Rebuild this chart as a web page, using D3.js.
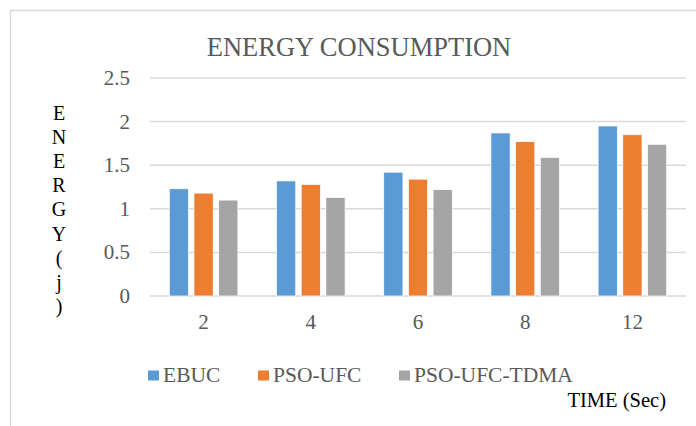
<!DOCTYPE html>
<html>
<head>
<meta charset="utf-8">
<script src="https://cdn.jsdelivr.net/npm/d3@7"></script>
<style>
  html, body { margin: 0; padding: 0; background: #fff; }
  svg { display: block; }
</style>
</head>
<body>
<svg id="chart" width="696" height="426"></svg>
<script>
const times = ["2", "4", "6", "8", "12"];
const seriesNames = ["EBUC", "PSO-UFC", "PSO-UFC-TDMA"];
const ebuc = [1.23, 1.32, 1.42, 1.87, 1.95];
const psoUfc = [1.18, 1.28, 1.34, 1.77, 1.85];
const psoUfcTdma = [1.10, 1.13, 1.22, 1.59, 1.74];
const yTicks = [0, 0.5, 1, 1.5, 2, 2.5];
const yTitleChars = ["E", "N", "E", "R", "G", "Y", "(", "j", ")"];

const colors = ["#5B9BD5", "#ED7D31", "#A5A5A5"];
const seriesValues = [ebuc, psoUfc, psoUfcTdma];
const font = "'Liberation Serif', 'Times New Roman', serif";

const svg = d3.select("#chart");

// outer chart border (only top and left visible in frame)
svg.append("rect")
  .attr("x", 10.5).attr("y", 10.5)
  .attr("width", 720).attr("height", 440)
  .attr("fill", "none")
  .attr("stroke", "#d9d9d9")
  .attr("stroke-width", 1.5);

const plot = { left: 150, right: 686, top: 78, bottom: 296 };

const x = d3.scaleBand().domain(times).range([plot.left, plot.right]).padding(0);
const bw = x.bandwidth();
const xSub = d3.scaleBand()
  .domain(seriesNames)
  .range([0.18 * bw, 0.82 * bw])
  .paddingInner(0.22);
const y = d3.scaleLinear().domain([0, 2.5]).range([plot.bottom, plot.top]);

// gridlines
svg.append("g")
  .selectAll("line")
  .data(yTicks)
  .join("line")
  .attr("x1", plot.left).attr("x2", plot.right)
  .attr("y1", (d) => y(d)).attr("y2", (d) => y(d))
  .attr("stroke", "#d9d9d9")
  .attr("stroke-width", 1.5);

// y tick labels
svg.append("g")
  .selectAll("text")
  .data(yTicks)
  .join("text")
  .attr("x", 130)
  .attr("y", (d) => y(d))
  .attr("dy", "0.33em")
  .attr("text-anchor", "end")
  .attr("font-family", font)
  .attr("font-size", 21)
  .attr("fill", "#595959")
  .text((d) => d);

// bars
const groups = svg.append("g")
  .selectAll("g")
  .data(times)
  .join("g")
  .attr("transform", (d) => `translate(${x(d)},0)`);

groups.selectAll("rect")
  .data((t, i) => seriesNames.map((s, k) => ({ s, k, v: seriesValues[k][i] })))
  .join("rect")
  .attr("x", (d) => xSub(d.s))
  .attr("width", xSub.bandwidth())
  .attr("y", (d) => y(d.v))
  .attr("height", (d) => y(0) - y(d.v))
  .attr("fill", (d) => colors[d.k])
  .attr("stroke", "#fff")
  .attr("stroke-width", 0.75);

// x tick labels
svg.append("g")
  .selectAll("text")
  .data(times)
  .join("text")
  .attr("x", (d) => x(d) + bw / 2)
  .attr("y", 329)
  .attr("text-anchor", "middle")
  .attr("font-family", font)
  .attr("font-size", 21)
  .attr("fill", "#595959")
  .text((d) => d);

// title
svg.append("text")
  .attr("x", 359)
  .attr("y", 55.5)
  .attr("text-anchor", "middle")
  .attr("font-family", font)
  .attr("font-size", 26.5)
  .attr("fill", "#595959")
  .text("ENERGY CONSUMPTION");

// vertical y-axis title
svg.append("g")
  .selectAll("text")
  .data(yTitleChars)
  .join("text")
  .attr("x", 59)
  .attr("y", (d, i) => 119.5 + i * 24.2)
  .attr("text-anchor", "middle")
  .attr("font-family", font)
  .attr("font-size", 20)
  .attr("fill", "#000")
  .text((d) => d);

// legend
const legendX = [148, 258, 399];
const legend = svg.append("g")
  .selectAll("g")
  .data(seriesNames)
  .join("g")
  .attr("transform", (d, i) => `translate(${legendX[i]},0)`);
legend.append("rect")
  .attr("x", 0).attr("y", 370.5)
  .attr("width", 11).attr("height", 10)
  .attr("fill", (d, i) => colors[i]);
legend.append("text")
  .attr("x", 15)
  .attr("y", 381.5)
  .attr("font-family", font)
  .attr("font-size", 21.5)
  .attr("fill", "#595959")
  .text((d) => d);

// x-axis title
svg.append("text")
  .attr("x", 666)
  .attr("y", 407)
  .attr("text-anchor", "end")
  .attr("font-family", font)
  .attr("font-size", 20.5)
  .attr("fill", "#000")
  .text("TIME (Sec)");
</script>
</body>
</html>
